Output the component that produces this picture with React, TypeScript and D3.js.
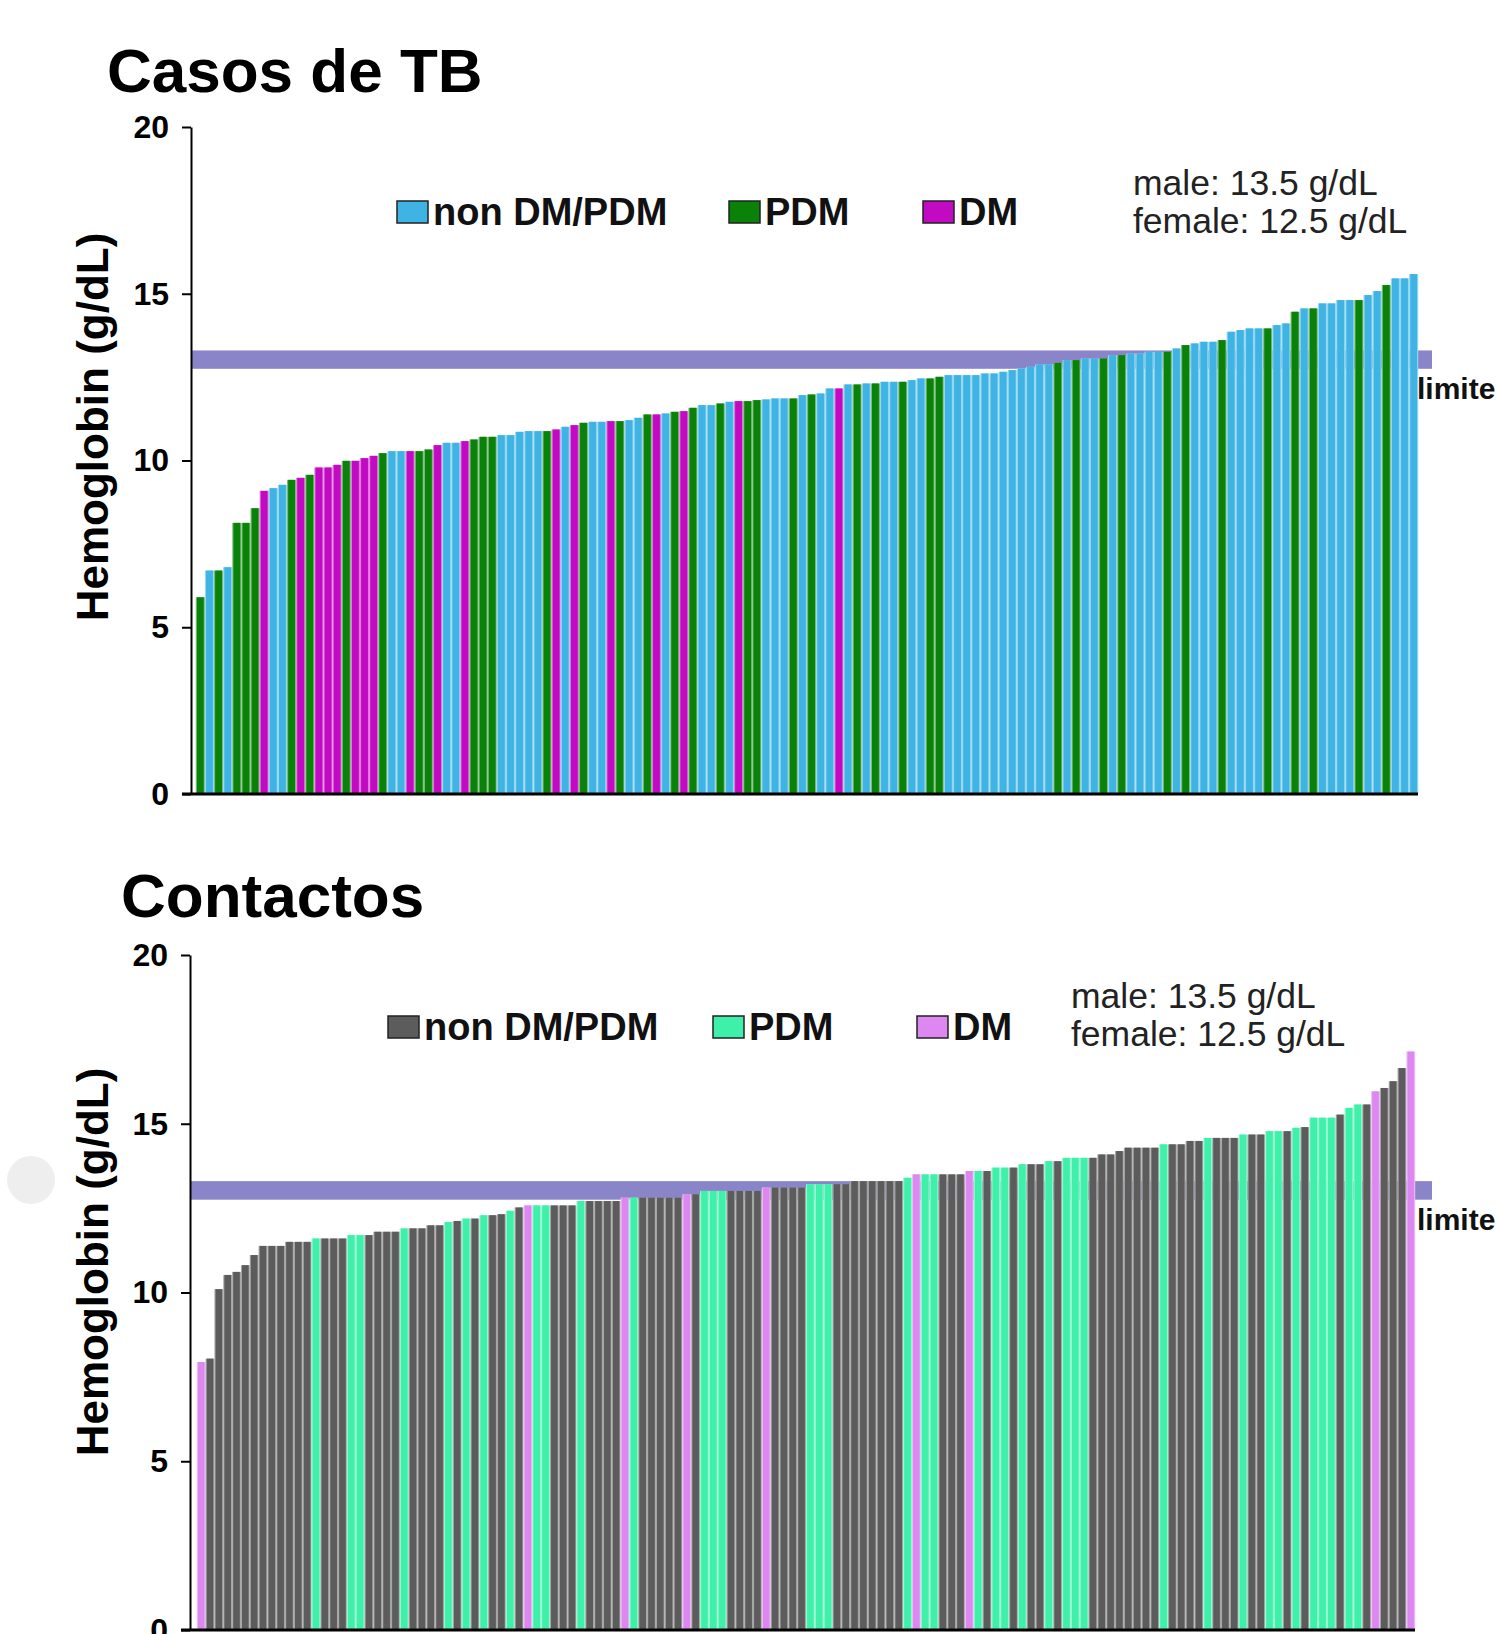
import * as d3 from 'd3'
import { useEffect, useRef } from 'react'

// Hemoglobin per subject, sorted ascending (g/dL)
const casosValues = [
  5.9, 6.7, 6.7, 6.8, 8.13, 8.13, 8.57, 9.09, 9.17, 9.27,
  9.42, 9.48, 9.57, 9.79, 9.79, 9.87, 9.99, 9.99, 10.07, 10.14,
  10.22, 10.28, 10.28, 10.28, 10.28, 10.33, 10.46, 10.53, 10.53, 10.58,
  10.63, 10.71, 10.71, 10.76, 10.76, 10.86, 10.88, 10.88, 10.88, 10.93,
  11.01, 11.06, 11.13, 11.16, 11.16, 11.18, 11.18, 11.21, 11.28, 11.38,
  11.38, 11.41, 11.46, 11.48, 11.58, 11.66, 11.66, 11.71, 11.76, 11.78,
  11.78, 11.81, 11.83, 11.86, 11.86, 11.86, 11.96, 11.98, 12.01, 12.16,
  12.16, 12.28, 12.28, 12.31, 12.31, 12.36, 12.36, 12.36, 12.41, 12.46,
  12.46, 12.51, 12.56, 12.56, 12.56, 12.56, 12.61, 12.61, 12.66, 12.71,
  12.76, 12.81, 12.88, 12.88, 12.93, 13.01, 13.01, 13.06, 13.06, 13.06,
  13.16, 13.16, 13.21, 13.21, 13.26, 13.26, 13.26, 13.36, 13.46, 13.51,
  13.56, 13.56, 13.61, 13.86, 13.91, 13.96, 13.96, 13.96, 14.06, 14.11,
  14.46, 14.56, 14.56, 14.71, 14.71, 14.81, 14.81, 14.81, 14.96, 15.08,
  15.26, 15.46, 15.46, 15.59,
]
// N = non DM/PDM, P = PDM, D = DM
const casosGroups = [
  'P', 'N', 'P', 'N', 'P', 'P', 'P', 'D', 'N', 'N',
  'P', 'D', 'P', 'D', 'D', 'D', 'P', 'D', 'D', 'D',
  'P', 'N', 'N', 'D', 'P', 'P', 'D', 'N', 'N', 'D',
  'P', 'P', 'P', 'N', 'N', 'N', 'N', 'N', 'P', 'D',
  'N', 'D', 'P', 'N', 'N', 'D', 'P', 'N', 'N', 'P',
  'D', 'N', 'P', 'D', 'P', 'N', 'N', 'P', 'N', 'D',
  'P', 'P', 'N', 'N', 'N', 'P', 'N', 'P', 'N', 'N',
  'D', 'N', 'P', 'N', 'P', 'N', 'N', 'P', 'N', 'N',
  'P', 'P', 'N', 'N', 'N', 'N', 'N', 'N', 'N', 'N',
  'N', 'N', 'N', 'N', 'P', 'N', 'P', 'N', 'N', 'P',
  'N', 'P', 'N', 'N', 'N', 'N', 'P', 'N', 'P', 'N',
  'N', 'N', 'P', 'N', 'N', 'N', 'N', 'P', 'N', 'N',
  'P', 'N', 'P', 'N', 'N', 'N', 'N', 'P', 'N', 'N',
  'P', 'N', 'N', 'N',
]

const contactosValues = [
  7.94, 8.04, 10.1, 10.52, 10.61, 10.81, 11.11, 11.38, 11.38, 11.38,
  11.5, 11.5, 11.5, 11.6, 11.6, 11.6, 11.6, 11.7, 11.7, 11.7,
  11.8, 11.8, 11.8, 11.9, 11.9, 11.9, 11.99, 11.99, 12.09, 12.12,
  12.19, 12.19, 12.29, 12.29, 12.32, 12.42, 12.52, 12.58, 12.58, 12.58,
  12.58, 12.58, 12.58, 12.71, 12.71, 12.71, 12.71, 12.71, 12.81, 12.81,
  12.81, 12.81, 12.81, 12.81, 12.81, 12.91, 12.91, 13.01, 13.01, 13.01,
  13.01, 13.01, 13.01, 13.01, 13.11, 13.11, 13.11, 13.11, 13.11, 13.21,
  13.21, 13.21, 13.21, 13.21, 13.3, 13.3, 13.3, 13.3, 13.3, 13.3,
  13.4, 13.5, 13.5, 13.5, 13.5, 13.5, 13.5, 13.6, 13.6, 13.6,
  13.7, 13.7, 13.7, 13.8, 13.8, 13.8, 13.89, 13.89, 13.99, 13.99,
  13.99, 13.99, 14.09, 14.09, 14.19, 14.29, 14.29, 14.29, 14.29, 14.39,
  14.39, 14.39, 14.49, 14.49, 14.58, 14.58, 14.58, 14.58, 14.68, 14.68,
  14.68, 14.78, 14.78, 14.78, 14.88, 14.9, 15.18, 15.18, 15.18, 15.27,
  15.47, 15.57, 15.57, 15.96, 16.06, 16.26, 16.65, 17.14,
]
const contactosGroups = [
  'D', 'N', 'N', 'N', 'N', 'N', 'N', 'N', 'N', 'N',
  'N', 'N', 'N', 'P', 'N', 'N', 'N', 'P', 'P', 'N',
  'N', 'N', 'N', 'P', 'N', 'N', 'N', 'N', 'P', 'N',
  'P', 'N', 'P', 'N', 'N', 'P', 'N', 'D', 'P', 'P',
  'N', 'N', 'N', 'P', 'N', 'N', 'N', 'N', 'D', 'P',
  'N', 'N', 'N', 'N', 'N', 'D', 'N', 'P', 'P', 'P',
  'N', 'N', 'N', 'N', 'D', 'N', 'N', 'N', 'N', 'P',
  'P', 'P', 'N', 'N', 'N', 'N', 'N', 'N', 'N', 'N',
  'P', 'D', 'P', 'P', 'N', 'N', 'N', 'D', 'P', 'N',
  'P', 'P', 'N', 'P', 'N', 'N', 'P', 'N', 'P', 'P',
  'P', 'N', 'N', 'N', 'N', 'N', 'N', 'N', 'N', 'P',
  'N', 'N', 'N', 'N', 'P', 'N', 'N', 'N', 'P', 'N',
  'N', 'P', 'P', 'N', 'P', 'N', 'P', 'P', 'P', 'N',
  'P', 'P', 'N', 'D', 'N', 'N', 'N', 'D',
]

const yTicks = [0, 5, 10, 15, 20]
const groupKeys = ['N', 'P', 'D']
const groupLabels = ['non DM/PDM', 'PDM', 'DM']
const refBand = [12.75, 13.3]
const refNotes = ['male: 13.5 g/dL', 'female: 12.5 g/dL']

const FONT = "'Liberation Sans', Arial, Helvetica, sans-serif"

function drawPanel(svg: any, o: any) {
  const g = svg.append('g')
  const x = d3
    .scaleBand()
    .domain(o.values.map((_: any, i: number) => String(i)))
    .range(o.barRange)
    .paddingInner(0.25)
    .paddingOuter(0.1)
  const y = d3.scaleLinear().domain([0, 20]).range([o.y0, o.y20])
  const color = d3.scaleOrdinal().domain(groupKeys).range(o.colors)
  // light edge that shows between neighbouring bars
  const tint = (k: string) => d3.interpolateRgb(color(k) as string, '#ffffff')(0.45)

  // title
  g.append('text')
    .attr('x', o.titleX)
    .attr('y', o.titleY)
    .attr('font-family', FONT)
    .attr('font-weight', 'bold')
    .attr('font-size', 62)
    .attr('fill', '#000')
    .text(o.title)

  // reference band (behind bars)
  g.append('rect')
    .attr('x', o.axisX)
    .attr('y', y(refBand[1]))
    .attr('width', o.bandEnd - o.axisX)
    .attr('height', y(refBand[0]) - y(refBand[1]))
    .attr('fill', '#8a84c8')

  g.append('text')
    .attr('x', o.bandEnd - 15)
    .attr('y', y(refBand[0]) + 30)
    .attr('font-family', FONT)
    .attr('font-weight', 'bold')
    .attr('font-size', 30)
    .attr('fill', '#111')
    .text('limite')

  // bars: tinted full-step underlay, then the solid bar
  const step = x.step()
  const pad = (step - x.bandwidth()) / 2
  g.append('g')
    .selectAll('rect')
    .data(o.values)
    .join('rect')
    .attr('x', (_: any, i: number) => (x(String(i)) as number) - pad)
    .attr('width', step)
    .attr('y', (d: number) => y(d))
    .attr('height', (d: number) => y(0) - y(d))
    .attr('fill', (_: any, i: number) => tint(o.groups[i]))
  g.append('g')
    .selectAll('rect')
    .data(o.values)
    .join('rect')
    .attr('x', (_: any, i: number) => x(String(i)))
    .attr('width', x.bandwidth())
    .attr('y', (d: number) => y(d))
    .attr('height', (d: number) => y(0) - y(d))
    .attr('fill', (_: any, i: number) => color(o.groups[i]))

  // y axis
  const axis = g
    .append('g')
    .attr('transform', `translate(${o.axisX},0)`)
    .call(d3.axisLeft(y).tickValues(yTicks).tickSize(9).tickSizeOuter(0).tickPadding(13))
  axis.select('.domain').attr('stroke', '#000').attr('stroke-width', 2)
  axis.selectAll('.tick line').attr('stroke', '#000').attr('stroke-width', 2)
  axis
    .selectAll('.tick text')
    .attr('font-family', FONT)
    .attr('font-weight', 'bold')
    .attr('font-size', 32)
    .attr('fill', '#000')

  // baseline
  g.append('line')
    .attr('x1', o.axisX - 9)
    .attr('x2', o.barRange[1])
    .attr('y1', y(0))
    .attr('y2', y(0))
    .attr('stroke', '#000')
    .attr('stroke-width', 3)

  // y label
  g.append('text')
    .attr('transform', `translate(108,${o.labelY}) rotate(-90)`)
    .attr('text-anchor', 'middle')
    .attr('font-family', FONT)
    .attr('font-weight', 'bold')
    .attr('font-size', 44)
    .attr('fill', '#000')
    .text('Hemoglobin (g/dL)')

  // legend
  groupKeys.forEach((k, i) => {
    g.append('rect')
      .attr('x', o.legendX[i])
      .attr('y', o.legendY - 11)
      .attr('width', 31)
      .attr('height', 22)
      .attr('fill', color(k))
      .attr('stroke', '#222')
      .attr('stroke-width', 1.5)
    g.append('text')
      .attr('x', o.legendX[i] + 36)
      .attr('y', o.legendY + 13)
      .attr('font-family', FONT)
      .attr('font-weight', 'bold')
      .attr('font-size', 38)
      .attr('fill', '#111')
      .text(groupLabels[i])
  })

  // male / female note
  refNotes.forEach((t, i) => {
    g.append('text')
      .attr('x', o.noteX)
      .attr('y', o.noteY + i * 38)
      .attr('font-family', FONT)
      .attr('font-size', 35.5)
      .attr('fill', '#222')
      .text(t)
  })
}

export default function App() {
  const svgRef = useRef<SVGSVGElement>(null)

  useEffect(() => {
    document.body.style.margin = '0'
    const svg = d3.select(svgRef.current)
    svg.selectAll('*').remove()

    svg.append('rect').attr('width', 1497).attr('height', 1634).attr('fill', '#fff')

    drawPanel(svg, {
      title: 'Casos de TB',
      titleX: 107,
      titleY: 92,
      values: casosValues,
      groups: casosGroups,
      colors: ['#3fb4e4', '#0a820a', '#c20ac2'],
      barRange: [196, 1418],
      axisX: 191,
      y0: 794,
      y20: 127,
      bandEnd: 1432,
      labelY: 427,
      legendX: [397, 729, 923],
      legendY: 212,
      noteX: 1133,
      noteY: 195,
    })

    drawPanel(svg, {
      title: 'Contactos',
      titleX: 121,
      titleY: 917,
      values: contactosValues,
      groups: contactosGroups,
      colors: ['#5c5c5c', '#3ef0aa', '#dc88f0'],
      barRange: [197, 1415],
      axisX: 190,
      y0: 1630,
      y20: 955,
      bandEnd: 1432,
      labelY: 1262,
      legendX: [388, 713, 917],
      legendY: 1027,
      noteX: 1071,
      noteY: 1008,
    })

    // faint round mark at the left edge of the screenshot
    svg.append('circle').attr('cx', 31).attr('cy', 1180).attr('r', 24).attr('fill', '#eeeeee')
  }, [])

  return (
    <div>
      <svg ref={svgRef} width={1497} height={1634} style={{ display: 'block' }} />
    </div>
  )
}
